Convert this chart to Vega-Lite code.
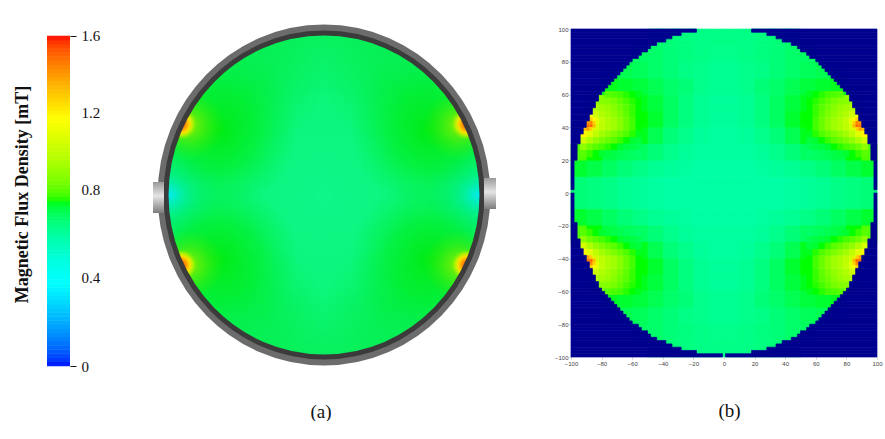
{"$schema":"https://vega.github.io/schema/vega-lite/v6.json","background":"white","padding":{"left":13,"top":14,"right":0,"bottom":0},"bounds":"flush","spacing":62,"config":{"view":{"stroke":null},"axis":{"grid":false}},"datasets":{"edge":[{"a":-100,"b":100,"y":98,"y2":100,"l":-18,"r":18},{"a":-100,"b":100,"y":96,"y2":98,"l":-28,"r":28},{"a":-100,"b":100,"y":94,"y2":96,"l":-34,"r":34},{"a":-100,"b":100,"y":92,"y2":94,"l":-38,"r":38},{"a":-100,"b":100,"y":90,"y2":92,"l":-44,"r":44},{"a":-100,"b":100,"y":88,"y2":90,"l":-48,"r":48},{"a":-100,"b":100,"y":86,"y2":88,"l":-50,"r":50},{"a":-100,"b":100,"y":84,"y2":86,"l":-54,"r":54},{"a":-100,"b":100,"y":82,"y2":84,"l":-56,"r":56},{"a":-100,"b":100,"y":80,"y2":82,"l":-60,"r":60},{"a":-100,"b":100,"y":78,"y2":80,"l":-62,"r":62},{"a":-100,"b":100,"y":76,"y2":78,"l":-64,"r":64},{"a":-100,"b":100,"y":74,"y2":76,"l":-66,"r":66},{"a":-100,"b":100,"y":72,"y2":74,"l":-68,"r":68},{"a":-100,"b":100,"y":70,"y2":72,"l":-70,"r":70},{"a":-100,"b":100,"y":68,"y2":70,"l":-72,"r":72},{"a":-100,"b":100,"y":66,"y2":68,"l":-74,"r":74},{"a":-100,"b":100,"y":64,"y2":66,"l":-76,"r":76},{"a":-100,"b":100,"y":62,"y2":64,"l":-78,"r":78},{"a":-100,"b":100,"y":60,"y2":62,"l":-80,"r":80},{"a":-100,"b":100,"y":56,"y2":60,"l":-82,"r":82},{"a":-100,"b":100,"y":52,"y2":56,"l":-84,"r":84},{"a":-100,"b":100,"y":48,"y2":52,"l":-86,"r":86},{"a":-100,"b":100,"y":44,"y2":48,"l":-88,"r":88},{"a":-100,"b":100,"y":40,"y2":44,"l":-90,"r":90},{"a":-100,"b":100,"y":36,"y2":40,"l":-92,"r":92},{"a":-100,"b":100,"y":30,"y2":36,"l":-94,"r":94},{"a":-100,"b":100,"y":20,"y2":30,"l":-96,"r":96},{"a":-100,"b":100,"y":2,"y2":20,"l":-98,"r":98},{"a":-100,"b":100,"y":-100,"y2":-98,"l":-1,"r":1},{"a":-100,"b":100,"y":-98,"y2":-96,"l":-18,"r":18},{"a":-100,"b":100,"y":-96,"y2":-94,"l":-28,"r":28},{"a":-100,"b":100,"y":-94,"y2":-92,"l":-34,"r":34},{"a":-100,"b":100,"y":-92,"y2":-90,"l":-38,"r":38},{"a":-100,"b":100,"y":-90,"y2":-88,"l":-44,"r":44},{"a":-100,"b":100,"y":-88,"y2":-86,"l":-48,"r":48},{"a":-100,"b":100,"y":-86,"y2":-84,"l":-50,"r":50},{"a":-100,"b":100,"y":-84,"y2":-82,"l":-54,"r":54},{"a":-100,"b":100,"y":-82,"y2":-80,"l":-56,"r":56},{"a":-100,"b":100,"y":-80,"y2":-78,"l":-60,"r":60},{"a":-100,"b":100,"y":-78,"y2":-76,"l":-62,"r":62},{"a":-100,"b":100,"y":-76,"y2":-74,"l":-64,"r":64},{"a":-100,"b":100,"y":-74,"y2":-72,"l":-66,"r":66},{"a":-100,"b":100,"y":-72,"y2":-70,"l":-68,"r":68},{"a":-100,"b":100,"y":-70,"y2":-68,"l":-70,"r":70},{"a":-100,"b":100,"y":-68,"y2":-66,"l":-72,"r":72},{"a":-100,"b":100,"y":-66,"y2":-64,"l":-74,"r":74},{"a":-100,"b":100,"y":-64,"y2":-62,"l":-76,"r":76},{"a":-100,"b":100,"y":-62,"y2":-60,"l":-78,"r":78},{"a":-100,"b":100,"y":-60,"y2":-58,"l":-80,"r":80},{"a":-100,"b":100,"y":-58,"y2":-54,"l":-82,"r":82},{"a":-100,"b":100,"y":-54,"y2":-50,"l":-84,"r":84},{"a":-100,"b":100,"y":-50,"y2":-46,"l":-86,"r":86},{"a":-100,"b":100,"y":-46,"y2":-42,"l":-88,"r":88},{"a":-100,"b":100,"y":-42,"y2":-38,"l":-90,"r":90},{"a":-100,"b":100,"y":-38,"y2":-34,"l":-92,"r":92},{"a":-100,"b":100,"y":-34,"y2":-28,"l":-94,"r":94},{"a":-100,"b":100,"y":-28,"y2":-18,"l":-96,"r":96},{"a":-100,"b":100,"y":-18,"y2":0,"l":-98,"r":98}]},"hconcat":[{"width":23,"height":342,"data":{"values":[{"v":0.01},{"v":0.03},{"v":0.05},{"v":0.07},{"v":0.09},{"v":0.11},{"v":0.13},{"v":0.15},{"v":0.17},{"v":0.19},{"v":0.21},{"v":0.23},{"v":0.25},{"v":0.27},{"v":0.29},{"v":0.31},{"v":0.33},{"v":0.35},{"v":0.37},{"v":0.39},{"v":0.41},{"v":0.43},{"v":0.45},{"v":0.47},{"v":0.49},{"v":0.51},{"v":0.53},{"v":0.55},{"v":0.57},{"v":0.59},{"v":0.61},{"v":0.63},{"v":0.65},{"v":0.67},{"v":0.69},{"v":0.71},{"v":0.73},{"v":0.75},{"v":0.77},{"v":0.79},{"v":0.81},{"v":0.83},{"v":0.85},{"v":0.87},{"v":0.89},{"v":0.91},{"v":0.93},{"v":0.95},{"v":0.97},{"v":0.99},{"v":1.01},{"v":1.03},{"v":1.05},{"v":1.07},{"v":1.09},{"v":1.11},{"v":1.13},{"v":1.15},{"v":1.17},{"v":1.19},{"v":1.21},{"v":1.23},{"v":1.25},{"v":1.27},{"v":1.29},{"v":1.31},{"v":1.33},{"v":1.35},{"v":1.37},{"v":1.39},{"v":1.41},{"v":1.43},{"v":1.45},{"v":1.47},{"v":1.49},{"v":1.51},{"v":1.53},{"v":1.55},{"v":1.57},{"v":1.59}]},"mark":{"type":"rect","height":4.6},"encoding":{"y":{"field":"v","type":"quantitative","scale":{"domain":[0,1.658],"nice":false,"zero":false},"axis":{"orient":"right","title":"Magnetic Flux Density [mT]","titleFont":"Liberation Serif","titleFontSize":18,"titleFontWeight":"bold","titleColor":"#111","titleX":-39,"titleY":170,"titleAngle":270,"values":[0,0.427,0.858,1.229,1.6],"labelExpr":"datum.value<0.01?'0':datum.value<0.5?'0.4':datum.value<0.9?'0.8':datum.value<1.3?'1.2':'1.6'","domain":false,"tickSize":6,"tickColor":"#111","tickOpacity":{"condition":{"test":"datum.value==0||datum.value==1.6","value":1},"value":0},"labelFont":"Liberation Serif","labelFontSize":15,"labelColor":"#111","labelPadding":5,"labelBaseline":"middle"}},"color":{"field":"v","type":"quantitative","legend":null,"scale":{"domain":[0,0.4,0.8,1.2,1.6],"range":["#0000ff","#00ffff","#00ff00","#ffff00","#ff0000"]}}}},{"width":377,"height":344,"encoding":{"x":{"field":"x","type":"quantitative","scale":{"domain":[-192,185],"nice":false,"zero":false},"axis":{"title":"(a)","labels":false,"ticks":false,"domain":false,"titleFont":"Liberation Serif","titleFontSize":19,"titleFontWeight":"normal","titleColor":"#111","titlePadding":34}},"y":{"field":"y","type":"quantitative","scale":{"domain":[-173,171],"nice":false,"zero":false},"axis":null}},"layer":[{"data":{"values":[{"x":0,"y":0}]},"mark":{"type":"point","filled":true,"opacity":1,"strokeWidth":0,"size":103041,"shape":"M-0.975,0C-0.975,-0.552,-0.538,-1,0,-1C0.538,-1,0.975,-0.552,0.975,0C0.975,0.552,0.538,1,0,1C-0.538,1,-0.975,0.552,-0.975,0Z","fill":{"gradient":"radial","x1":0.5,"y1":0.5,"r1":0,"x2":0.5,"y2":0.5,"r2":0.5,"stops":[{"offset":0,"color":"#0cf68a"},{"offset":0.6,"color":"#0bf67a"},{"offset":1,"color":"#08f05c"}]}}},{"data":{"values":[{"x":-155,"y":0},{"x":155,"y":0}]},"mark":{"type":"point","shape":"circle","filled":true,"opacity":1,"strokeWidth":0,"size":16900,"clip":true,"fill":{"gradient":"radial","x1":0.5,"y1":0.5,"r1":0,"x2":0.5,"y2":0.5,"r2":0.5,"stops":[{"offset":0,"color":"rgba(0,235,235,1)"},{"offset":0.3,"color":"rgba(0,240,190,0.65)"},{"offset":1,"color":"rgba(5,245,120,0)"}]}}},{"data":{"values":[{"x":-60,"y":112},{"x":60,"y":112},{"x":-60,"y":-112},{"x":60,"y":-112}]},"mark":{"type":"point","shape":"circle","filled":true,"opacity":1,"strokeWidth":0,"size":14400,"clip":true,"fill":{"gradient":"radial","x1":0.5,"y1":0.5,"r1":0,"x2":0.5,"y2":0.5,"r2":0.5,"stops":[{"offset":0,"color":"rgba(0,235,50,0.45)"},{"offset":1,"color":"rgba(0,235,50,0)"}]}}},{"data":{"values":[{"x":-105,"y":65},{"x":105,"y":65},{"x":-105,"y":-65},{"x":105,"y":-65}]},"mark":{"type":"point","shape":"circle","filled":true,"opacity":1,"strokeWidth":0,"size":25600,"clip":true,"fill":{"gradient":"radial","x1":0.5,"y1":0.5,"r1":0,"x2":0.5,"y2":0.5,"r2":0.5,"stops":[{"offset":0,"color":"rgba(0,235,15,0.95)"},{"offset":0.5,"color":"rgba(0,238,30,0.6)"},{"offset":1,"color":"rgba(0,240,60,0)"}]}}},{"data":{"values":[{"x":-135,"y":70},{"x":135,"y":70},{"x":-135,"y":-70},{"x":135,"y":-70}]},"mark":{"type":"point","shape":"circle","filled":true,"opacity":1,"strokeWidth":0,"size":4900,"clip":true,"fill":{"gradient":"radial","x1":0.5,"y1":0.5,"r1":0,"x2":0.5,"y2":0.5,"r2":0.5,"stops":[{"offset":0,"color":"rgba(160,240,0,0.9)"},{"offset":1,"color":"rgba(60,235,0,0)"}]}}},{"data":{"values":[{"x":-143,"y":71},{"x":143,"y":71},{"x":-143,"y":-70},{"x":143,"y":-70}]},"mark":{"type":"point","shape":"circle","filled":true,"opacity":1,"strokeWidth":0,"size":1024,"clip":true,"fill":{"gradient":"radial","x1":0.5,"y1":0.5,"r1":0,"x2":0.5,"y2":0.5,"r2":0.5,"stops":[{"offset":0,"color":"#ff5a00"},{"offset":0.28,"color":"#ff8c00"},{"offset":0.55,"color":"#ffe000"},{"offset":0.75,"color":"rgba(200,245,0,0.7)"},{"offset":1,"color":"rgba(120,240,0,0)"}]}}},{"data":{"values":[{"x":0,"y":0}]},"mark":{"type":"point","filled":false,"opacity":1,"clip":true,"stroke":"white","strokeWidth":120,"size":211600,"shape":"M-0.975,0C-0.975,-0.552,-0.538,-1,0,-1C0.538,-1,0.975,-0.552,0.975,0C0.975,0.552,0.538,1,0,1C-0.538,1,-0.975,0.552,-0.975,0Z"}},{"data":{"values":[{"x":0,"y":0}]},"mark":{"type":"point","filled":false,"opacity":1,"stroke":"#6c6c6c","strokeWidth":7,"size":111556,"shape":"M-0.975,0C-0.975,-0.552,-0.538,-1,0,-1C0.538,-1,0.975,-0.552,0.975,0C0.975,0.552,0.538,1,0,1C-0.538,1,-0.975,0.552,-0.975,0Z"}},{"data":{"values":[{"x":0,"y":0}]},"mark":{"type":"point","filled":false,"opacity":1,"stroke":"#3b3b3b","strokeWidth":5,"size":104976,"shape":"M-0.975,0C-0.975,-0.552,-0.538,-1,0,-1C0.538,-1,0.975,-0.552,0.975,0C0.975,0.552,0.538,1,0,1C-0.538,1,-0.975,0.552,-0.975,0Z"}},{"data":{"values":[{"x":-171,"x2":-160,"y":-18,"y2":13},{"x":160,"x2":172,"y":-14,"y2":17}]},"mark":{"type":"rect","fill":{"gradient":"linear","x1":0,"y1":0,"x2":0,"y2":1,"stops":[{"offset":0,"color":"#9a9a9a"},{"offset":0.45,"color":"#e4e4e4"},{"offset":1,"color":"#7c7c7c"}]}},"encoding":{"x2":{"field":"x2"},"y2":{"field":"y2"}}}]},{"width":306,"height":333,"encoding":{"x":{"field":"x","type":"quantitative","scale":{"domain":[-100,100],"nice":false,"zero":false},"axis":{"title":"(b)","titleFont":"Liberation Serif","titleFontSize":19,"titleFontWeight":"normal","titleColor":"#111","titlePadding":35,"titleX":158,"values":[-100,-80,-60,-40,-20,0,20,40,60,80,100],"domain":false,"tickSize":2,"tickColor":"#ccc","labelFont":"Liberation Sans","labelFontSize":6,"labelColor":"#444","labelPadding":1,"labelFlush":false}},"y":{"field":"y","type":"quantitative","scale":{"domain":[-100,103.05],"nice":false,"zero":false},"axis":{"title":null,"values":[-100,-80,-60,-40,-20,0,20,40,60,80,100],"domain":false,"tickSize":2,"tickColor":"#ccc","labelFont":"Liberation Sans","labelFontSize":6,"labelColor":"#444","labelPadding":1}},"color":{"field":"v","type":"quantitative","legend":null,"scale":{"domain":[0,0.4,0.8,1.2,1.6],"range":["#0000ff","#00ffff","#00ff00","#ffff00","#ff0000"]}}},"layer":[{"mark":{"type":"rect","width":16,"height":17},"data":{"values":[{"x":-5,"y":5,"v":0.63},{"x":-15,"y":5,"v":0.63},{"x":-25,"y":5,"v":0.63},{"x":-35,"y":5,"v":0.63},{"x":-45,"y":5,"v":0.64},{"x":-55,"y":5,"v":0.65},{"x":-65,"y":5,"v":0.66},{"x":-75,"y":5,"v":0.68},{"x":-85,"y":5,"v":0.69},{"x":-95,"y":5,"v":0.7},{"x":5,"y":5,"v":0.63},{"x":15,"y":5,"v":0.63},{"x":25,"y":5,"v":0.63},{"x":35,"y":5,"v":0.63},{"x":45,"y":5,"v":0.64},{"x":55,"y":5,"v":0.65},{"x":65,"y":5,"v":0.66},{"x":75,"y":5,"v":0.68},{"x":85,"y":5,"v":0.69},{"x":95,"y":5,"v":0.7},{"x":-5,"y":-5,"v":0.63},{"x":-15,"y":-5,"v":0.63},{"x":-25,"y":-5,"v":0.63},{"x":-35,"y":-5,"v":0.63},{"x":-45,"y":-5,"v":0.64},{"x":-55,"y":-5,"v":0.65},{"x":-65,"y":-5,"v":0.66},{"x":-75,"y":-5,"v":0.68},{"x":-85,"y":-5,"v":0.69},{"x":-95,"y":-5,"v":0.7},{"x":5,"y":-5,"v":0.63},{"x":15,"y":-5,"v":0.63},{"x":25,"y":-5,"v":0.63},{"x":35,"y":-5,"v":0.63},{"x":45,"y":-5,"v":0.64},{"x":55,"y":-5,"v":0.65},{"x":65,"y":-5,"v":0.66},{"x":75,"y":-5,"v":0.68},{"x":85,"y":-5,"v":0.69},{"x":95,"y":-5,"v":0.7},{"x":-5,"y":15,"v":0.63},{"x":-15,"y":15,"v":0.63},{"x":-25,"y":15,"v":0.64},{"x":-35,"y":15,"v":0.65},{"x":-45,"y":15,"v":0.66},{"x":-55,"y":15,"v":0.68},{"x":-65,"y":15,"v":0.7},{"x":-75,"y":15,"v":0.73},{"x":-85,"y":15,"v":0.76},{"x":-95,"y":15,"v":0.78},{"x":5,"y":15,"v":0.63},{"x":15,"y":15,"v":0.63},{"x":25,"y":15,"v":0.64},{"x":35,"y":15,"v":0.65},{"x":45,"y":15,"v":0.66},{"x":55,"y":15,"v":0.68},{"x":65,"y":15,"v":0.7},{"x":75,"y":15,"v":0.73},{"x":85,"y":15,"v":0.76},{"x":95,"y":15,"v":0.78},{"x":-5,"y":-15,"v":0.63},{"x":-15,"y":-15,"v":0.63},{"x":-25,"y":-15,"v":0.64},{"x":-35,"y":-15,"v":0.65},{"x":-45,"y":-15,"v":0.66},{"x":-55,"y":-15,"v":0.68},{"x":-65,"y":-15,"v":0.7},{"x":-75,"y":-15,"v":0.73},{"x":-85,"y":-15,"v":0.76},{"x":-95,"y":-15,"v":0.78},{"x":5,"y":-15,"v":0.63},{"x":15,"y":-15,"v":0.63},{"x":25,"y":-15,"v":0.64},{"x":35,"y":-15,"v":0.65},{"x":45,"y":-15,"v":0.66},{"x":55,"y":-15,"v":0.68},{"x":65,"y":-15,"v":0.7},{"x":75,"y":-15,"v":0.73},{"x":85,"y":-15,"v":0.76},{"x":95,"y":-15,"v":0.78},{"x":-5,"y":25,"v":0.64},{"x":-15,"y":25,"v":0.64},{"x":-25,"y":25,"v":0.65},{"x":-35,"y":25,"v":0.67},{"x":-45,"y":25,"v":0.7},{"x":-55,"y":25,"v":0.73},{"x":-65,"y":25,"v":0.74},{"x":-75,"y":25,"v":0.76},{"x":-85,"y":25,"v":0.8},{"x":-95,"y":25,"v":0.84},{"x":5,"y":25,"v":0.64},{"x":15,"y":25,"v":0.64},{"x":25,"y":25,"v":0.65},{"x":35,"y":25,"v":0.67},{"x":45,"y":25,"v":0.7},{"x":55,"y":25,"v":0.73},{"x":65,"y":25,"v":0.74},{"x":75,"y":25,"v":0.76},{"x":85,"y":25,"v":0.8},{"x":95,"y":25,"v":0.84},{"x":-5,"y":-25,"v":0.64},{"x":-15,"y":-25,"v":0.64},{"x":-25,"y":-25,"v":0.65},{"x":-35,"y":-25,"v":0.67},{"x":-45,"y":-25,"v":0.7},{"x":-55,"y":-25,"v":0.73},{"x":-65,"y":-25,"v":0.74},{"x":-75,"y":-25,"v":0.76},{"x":-85,"y":-25,"v":0.8},{"x":-95,"y":-25,"v":0.84},{"x":5,"y":-25,"v":0.64},{"x":15,"y":-25,"v":0.64},{"x":25,"y":-25,"v":0.65},{"x":35,"y":-25,"v":0.67},{"x":45,"y":-25,"v":0.7},{"x":55,"y":-25,"v":0.73},{"x":65,"y":-25,"v":0.74},{"x":75,"y":-25,"v":0.76},{"x":85,"y":-25,"v":0.8},{"x":95,"y":-25,"v":0.84},{"x":-5,"y":35,"v":0.64},{"x":-15,"y":35,"v":0.65},{"x":-25,"y":35,"v":0.67},{"x":-35,"y":35,"v":0.7},{"x":-45,"y":35,"v":0.75},{"x":-55,"y":35,"v":0.79},{"x":5,"y":35,"v":0.64},{"x":15,"y":35,"v":0.65},{"x":25,"y":35,"v":0.67},{"x":35,"y":35,"v":0.7},{"x":45,"y":35,"v":0.75},{"x":55,"y":35,"v":0.79},{"x":-5,"y":-35,"v":0.64},{"x":-15,"y":-35,"v":0.65},{"x":-25,"y":-35,"v":0.67},{"x":-35,"y":-35,"v":0.7},{"x":-45,"y":-35,"v":0.75},{"x":-55,"y":-35,"v":0.79},{"x":5,"y":-35,"v":0.64},{"x":15,"y":-35,"v":0.65},{"x":25,"y":-35,"v":0.67},{"x":35,"y":-35,"v":0.7},{"x":45,"y":-35,"v":0.75},{"x":55,"y":-35,"v":0.79},{"x":-5,"y":45,"v":0.65},{"x":-15,"y":45,"v":0.66},{"x":-25,"y":45,"v":0.69},{"x":-35,"y":45,"v":0.73},{"x":-45,"y":45,"v":0.78},{"x":-55,"y":45,"v":0.8},{"x":5,"y":45,"v":0.65},{"x":15,"y":45,"v":0.66},{"x":25,"y":45,"v":0.69},{"x":35,"y":45,"v":0.73},{"x":45,"y":45,"v":0.78},{"x":55,"y":45,"v":0.8},{"x":-5,"y":-45,"v":0.65},{"x":-15,"y":-45,"v":0.66},{"x":-25,"y":-45,"v":0.69},{"x":-35,"y":-45,"v":0.73},{"x":-45,"y":-45,"v":0.78},{"x":-55,"y":-45,"v":0.8},{"x":5,"y":-45,"v":0.65},{"x":15,"y":-45,"v":0.66},{"x":25,"y":-45,"v":0.69},{"x":35,"y":-45,"v":0.73},{"x":45,"y":-45,"v":0.78},{"x":55,"y":-45,"v":0.8},{"x":-5,"y":55,"v":0.65},{"x":-15,"y":55,"v":0.66},{"x":-25,"y":55,"v":0.69},{"x":-35,"y":55,"v":0.73},{"x":-45,"y":55,"v":0.77},{"x":-55,"y":55,"v":0.79},{"x":-75,"y":55,"v":0.9},{"x":-85,"y":55,"v":0.93},{"x":5,"y":55,"v":0.65},{"x":15,"y":55,"v":0.66},{"x":25,"y":55,"v":0.69},{"x":35,"y":55,"v":0.73},{"x":45,"y":55,"v":0.77},{"x":55,"y":55,"v":0.79},{"x":75,"y":55,"v":0.9},{"x":85,"y":55,"v":0.93},{"x":-5,"y":-55,"v":0.65},{"x":-15,"y":-55,"v":0.66},{"x":-25,"y":-55,"v":0.69},{"x":-35,"y":-55,"v":0.73},{"x":-45,"y":-55,"v":0.77},{"x":-55,"y":-55,"v":0.79},{"x":-75,"y":-55,"v":0.9},{"x":-85,"y":-55,"v":0.93},{"x":5,"y":-55,"v":0.65},{"x":15,"y":-55,"v":0.66},{"x":25,"y":-55,"v":0.69},{"x":35,"y":-55,"v":0.73},{"x":45,"y":-55,"v":0.77},{"x":55,"y":-55,"v":0.79},{"x":75,"y":-55,"v":0.9},{"x":85,"y":-55,"v":0.93},{"x":-5,"y":65,"v":0.66},{"x":-15,"y":65,"v":0.67},{"x":-25,"y":65,"v":0.7},{"x":-35,"y":65,"v":0.72},{"x":-45,"y":65,"v":0.75},{"x":-55,"y":65,"v":0.77},{"x":-65,"y":65,"v":0.78},{"x":-75,"y":65,"v":0.79},{"x":5,"y":65,"v":0.66},{"x":15,"y":65,"v":0.67},{"x":25,"y":65,"v":0.7},{"x":35,"y":65,"v":0.72},{"x":45,"y":65,"v":0.75},{"x":55,"y":65,"v":0.77},{"x":65,"y":65,"v":0.78},{"x":75,"y":65,"v":0.79},{"x":-5,"y":-65,"v":0.66},{"x":-15,"y":-65,"v":0.67},{"x":-25,"y":-65,"v":0.7},{"x":-35,"y":-65,"v":0.72},{"x":-45,"y":-65,"v":0.75},{"x":-55,"y":-65,"v":0.77},{"x":-65,"y":-65,"v":0.78},{"x":-75,"y":-65,"v":0.79},{"x":5,"y":-65,"v":0.66},{"x":15,"y":-65,"v":0.67},{"x":25,"y":-65,"v":0.7},{"x":35,"y":-65,"v":0.72},{"x":45,"y":-65,"v":0.75},{"x":55,"y":-65,"v":0.77},{"x":65,"y":-65,"v":0.78},{"x":75,"y":-65,"v":0.79},{"x":-5,"y":75,"v":0.66},{"x":-15,"y":75,"v":0.67},{"x":-25,"y":75,"v":0.68},{"x":-35,"y":75,"v":0.7},{"x":-45,"y":75,"v":0.72},{"x":-55,"y":75,"v":0.74},{"x":-65,"y":75,"v":0.75},{"x":-75,"y":75,"v":0.76},{"x":5,"y":75,"v":0.66},{"x":15,"y":75,"v":0.67},{"x":25,"y":75,"v":0.68},{"x":35,"y":75,"v":0.7},{"x":45,"y":75,"v":0.72},{"x":55,"y":75,"v":0.74},{"x":65,"y":75,"v":0.75},{"x":75,"y":75,"v":0.76},{"x":-5,"y":-75,"v":0.66},{"x":-15,"y":-75,"v":0.67},{"x":-25,"y":-75,"v":0.68},{"x":-35,"y":-75,"v":0.7},{"x":-45,"y":-75,"v":0.72},{"x":-55,"y":-75,"v":0.74},{"x":-65,"y":-75,"v":0.75},{"x":-75,"y":-75,"v":0.76},{"x":5,"y":-75,"v":0.66},{"x":15,"y":-75,"v":0.67},{"x":25,"y":-75,"v":0.68},{"x":35,"y":-75,"v":0.7},{"x":45,"y":-75,"v":0.72},{"x":55,"y":-75,"v":0.74},{"x":65,"y":-75,"v":0.75},{"x":75,"y":-75,"v":0.76},{"x":-5,"y":85,"v":0.67},{"x":-15,"y":85,"v":0.68},{"x":-25,"y":85,"v":0.69},{"x":-35,"y":85,"v":0.7},{"x":-45,"y":85,"v":0.72},{"x":-55,"y":85,"v":0.73},{"x":5,"y":85,"v":0.67},{"x":15,"y":85,"v":0.68},{"x":25,"y":85,"v":0.69},{"x":35,"y":85,"v":0.7},{"x":45,"y":85,"v":0.72},{"x":55,"y":85,"v":0.73},{"x":-5,"y":-85,"v":0.67},{"x":-15,"y":-85,"v":0.68},{"x":-25,"y":-85,"v":0.69},{"x":-35,"y":-85,"v":0.7},{"x":-45,"y":-85,"v":0.72},{"x":-55,"y":-85,"v":0.73},{"x":5,"y":-85,"v":0.67},{"x":15,"y":-85,"v":0.68},{"x":25,"y":-85,"v":0.69},{"x":35,"y":-85,"v":0.7},{"x":45,"y":-85,"v":0.72},{"x":55,"y":-85,"v":0.73},{"x":-5,"y":95,"v":0.68},{"x":-15,"y":95,"v":0.68},{"x":-25,"y":95,"v":0.69},{"x":-35,"y":95,"v":0.7},{"x":-45,"y":95,"v":0.71},{"x":5,"y":95,"v":0.68},{"x":15,"y":95,"v":0.68},{"x":25,"y":95,"v":0.69},{"x":35,"y":95,"v":0.7},{"x":45,"y":95,"v":0.71},{"x":-5,"y":-95,"v":0.68},{"x":-15,"y":-95,"v":0.68},{"x":-25,"y":-95,"v":0.69},{"x":-35,"y":-95,"v":0.7},{"x":-45,"y":-95,"v":0.71},{"x":5,"y":-95,"v":0.68},{"x":15,"y":-95,"v":0.68},{"x":25,"y":-95,"v":0.69},{"x":35,"y":-95,"v":0.7},{"x":45,"y":-95,"v":0.71}]}},{"mark":{"type":"rect","width":6.6,"height":7},"data":{"values":[{"x":-56,"y":60,"v":0.79},{"x":-60,"y":60,"v":0.8},{"x":-64,"y":60,"v":0.81},{"x":-68,"y":60,"v":0.83},{"x":-72,"y":60,"v":0.84},{"x":-76,"y":60,"v":0.85},{"x":-56,"y":56,"v":0.8},{"x":-60,"y":56,"v":0.81},{"x":-64,"y":56,"v":0.83},{"x":-68,"y":56,"v":0.86},{"x":-72,"y":56,"v":0.89},{"x":-76,"y":56,"v":0.91},{"x":-80,"y":56,"v":0.92},{"x":-84,"y":56,"v":0.94},{"x":-56,"y":52,"v":0.8},{"x":-60,"y":52,"v":0.82},{"x":-64,"y":52,"v":0.85},{"x":-68,"y":52,"v":0.88},{"x":-72,"y":52,"v":0.92},{"x":-76,"y":52,"v":0.95},{"x":-80,"y":52,"v":0.97},{"x":-84,"y":52,"v":1.0},{"x":-88,"y":52,"v":1.06},{"x":-56,"y":48,"v":0.8},{"x":-60,"y":48,"v":0.82},{"x":-64,"y":48,"v":0.86},{"x":-68,"y":48,"v":0.9},{"x":-72,"y":48,"v":0.94},{"x":-76,"y":48,"v":0.97},{"x":-80,"y":48,"v":1.0},{"x":-84,"y":48,"v":1.07},{"x":-88,"y":48,"v":1.18},{"x":-56,"y":44,"v":0.8},{"x":-60,"y":44,"v":0.83},{"x":-64,"y":44,"v":0.87},{"x":-68,"y":44,"v":0.92},{"x":-72,"y":44,"v":0.96},{"x":-76,"y":44,"v":0.99},{"x":-80,"y":44,"v":1.04},{"x":-84,"y":44,"v":1.13},{"x":-88,"y":44,"v":1.3},{"x":-56,"y":40,"v":0.8},{"x":-60,"y":40,"v":0.83},{"x":-64,"y":40,"v":0.87},{"x":-68,"y":40,"v":0.92},{"x":-72,"y":40,"v":0.96},{"x":-76,"y":40,"v":0.99},{"x":-80,"y":40,"v":1.03},{"x":-84,"y":40,"v":1.09},{"x":-88,"y":40,"v":1.2},{"x":-92,"y":40,"v":1.32},{"x":-56,"y":36,"v":0.79},{"x":-60,"y":36,"v":0.81},{"x":-64,"y":36,"v":0.84},{"x":-68,"y":36,"v":0.87},{"x":-72,"y":36,"v":0.9},{"x":-76,"y":36,"v":0.93},{"x":-80,"y":36,"v":0.97},{"x":-84,"y":36,"v":1.03},{"x":-88,"y":36,"v":1.12},{"x":-92,"y":36,"v":1.22},{"x":-56,"y":32,"v":0.77},{"x":-60,"y":32,"v":0.78},{"x":-64,"y":32,"v":0.8},{"x":-68,"y":32,"v":0.82},{"x":-72,"y":32,"v":0.85},{"x":-76,"y":32,"v":0.87},{"x":-80,"y":32,"v":0.9},{"x":-84,"y":32,"v":0.94},{"x":-88,"y":32,"v":1.0},{"x":-92,"y":32,"v":1.08},{"x":-56,"y":28,"v":0.75},{"x":-60,"y":28,"v":0.76},{"x":-64,"y":28,"v":0.77},{"x":-68,"y":28,"v":0.78},{"x":-72,"y":28,"v":0.8},{"x":-76,"y":28,"v":0.81},{"x":-80,"y":28,"v":0.83},{"x":-84,"y":28,"v":0.85},{"x":-88,"y":28,"v":0.88},{"x":-92,"y":28,"v":0.93},{"x":-56,"y":24,"v":0.72},{"x":-60,"y":24,"v":0.73},{"x":-64,"y":24,"v":0.74},{"x":-68,"y":24,"v":0.75},{"x":-72,"y":24,"v":0.76},{"x":-76,"y":24,"v":0.77},{"x":-80,"y":24,"v":0.78},{"x":-84,"y":24,"v":0.8},{"x":-88,"y":24,"v":0.82},{"x":-92,"y":24,"v":0.85},{"x":56,"y":60,"v":0.79},{"x":60,"y":60,"v":0.8},{"x":64,"y":60,"v":0.81},{"x":68,"y":60,"v":0.83},{"x":72,"y":60,"v":0.84},{"x":76,"y":60,"v":0.85},{"x":56,"y":56,"v":0.8},{"x":60,"y":56,"v":0.81},{"x":64,"y":56,"v":0.83},{"x":68,"y":56,"v":0.86},{"x":72,"y":56,"v":0.89},{"x":76,"y":56,"v":0.91},{"x":80,"y":56,"v":0.92},{"x":84,"y":56,"v":0.94},{"x":56,"y":52,"v":0.8},{"x":60,"y":52,"v":0.82},{"x":64,"y":52,"v":0.85},{"x":68,"y":52,"v":0.88},{"x":72,"y":52,"v":0.92},{"x":76,"y":52,"v":0.95},{"x":80,"y":52,"v":0.97},{"x":84,"y":52,"v":1.0},{"x":88,"y":52,"v":1.06},{"x":56,"y":48,"v":0.8},{"x":60,"y":48,"v":0.82},{"x":64,"y":48,"v":0.86},{"x":68,"y":48,"v":0.9},{"x":72,"y":48,"v":0.94},{"x":76,"y":48,"v":0.97},{"x":80,"y":48,"v":1.0},{"x":84,"y":48,"v":1.07},{"x":88,"y":48,"v":1.18},{"x":56,"y":44,"v":0.8},{"x":60,"y":44,"v":0.83},{"x":64,"y":44,"v":0.87},{"x":68,"y":44,"v":0.92},{"x":72,"y":44,"v":0.96},{"x":76,"y":44,"v":0.99},{"x":80,"y":44,"v":1.04},{"x":84,"y":44,"v":1.13},{"x":88,"y":44,"v":1.3},{"x":56,"y":40,"v":0.8},{"x":60,"y":40,"v":0.83},{"x":64,"y":40,"v":0.87},{"x":68,"y":40,"v":0.92},{"x":72,"y":40,"v":0.96},{"x":76,"y":40,"v":0.99},{"x":80,"y":40,"v":1.03},{"x":84,"y":40,"v":1.09},{"x":88,"y":40,"v":1.2},{"x":92,"y":40,"v":1.32},{"x":56,"y":36,"v":0.79},{"x":60,"y":36,"v":0.81},{"x":64,"y":36,"v":0.84},{"x":68,"y":36,"v":0.87},{"x":72,"y":36,"v":0.9},{"x":76,"y":36,"v":0.93},{"x":80,"y":36,"v":0.97},{"x":84,"y":36,"v":1.03},{"x":88,"y":36,"v":1.12},{"x":92,"y":36,"v":1.22},{"x":56,"y":32,"v":0.77},{"x":60,"y":32,"v":0.78},{"x":64,"y":32,"v":0.8},{"x":68,"y":32,"v":0.82},{"x":72,"y":32,"v":0.85},{"x":76,"y":32,"v":0.87},{"x":80,"y":32,"v":0.9},{"x":84,"y":32,"v":0.94},{"x":88,"y":32,"v":1.0},{"x":92,"y":32,"v":1.08},{"x":56,"y":28,"v":0.75},{"x":60,"y":28,"v":0.76},{"x":64,"y":28,"v":0.77},{"x":68,"y":28,"v":0.78},{"x":72,"y":28,"v":0.8},{"x":76,"y":28,"v":0.81},{"x":80,"y":28,"v":0.83},{"x":84,"y":28,"v":0.85},{"x":88,"y":28,"v":0.88},{"x":92,"y":28,"v":0.93},{"x":56,"y":24,"v":0.72},{"x":60,"y":24,"v":0.73},{"x":64,"y":24,"v":0.74},{"x":68,"y":24,"v":0.75},{"x":72,"y":24,"v":0.76},{"x":76,"y":24,"v":0.77},{"x":80,"y":24,"v":0.78},{"x":84,"y":24,"v":0.8},{"x":88,"y":24,"v":0.82},{"x":92,"y":24,"v":0.85},{"x":-56,"y":-60,"v":0.79},{"x":-60,"y":-60,"v":0.8},{"x":-64,"y":-60,"v":0.81},{"x":-68,"y":-60,"v":0.83},{"x":-72,"y":-60,"v":0.84},{"x":-76,"y":-60,"v":0.85},{"x":-56,"y":-56,"v":0.8},{"x":-60,"y":-56,"v":0.81},{"x":-64,"y":-56,"v":0.83},{"x":-68,"y":-56,"v":0.86},{"x":-72,"y":-56,"v":0.89},{"x":-76,"y":-56,"v":0.91},{"x":-80,"y":-56,"v":0.92},{"x":-84,"y":-56,"v":0.94},{"x":-56,"y":-52,"v":0.8},{"x":-60,"y":-52,"v":0.82},{"x":-64,"y":-52,"v":0.85},{"x":-68,"y":-52,"v":0.88},{"x":-72,"y":-52,"v":0.92},{"x":-76,"y":-52,"v":0.95},{"x":-80,"y":-52,"v":0.97},{"x":-84,"y":-52,"v":1.0},{"x":-88,"y":-52,"v":1.06},{"x":-56,"y":-48,"v":0.8},{"x":-60,"y":-48,"v":0.82},{"x":-64,"y":-48,"v":0.86},{"x":-68,"y":-48,"v":0.9},{"x":-72,"y":-48,"v":0.94},{"x":-76,"y":-48,"v":0.97},{"x":-80,"y":-48,"v":1.0},{"x":-84,"y":-48,"v":1.07},{"x":-88,"y":-48,"v":1.18},{"x":-56,"y":-44,"v":0.8},{"x":-60,"y":-44,"v":0.83},{"x":-64,"y":-44,"v":0.87},{"x":-68,"y":-44,"v":0.92},{"x":-72,"y":-44,"v":0.96},{"x":-76,"y":-44,"v":0.99},{"x":-80,"y":-44,"v":1.04},{"x":-84,"y":-44,"v":1.13},{"x":-88,"y":-44,"v":1.3},{"x":-56,"y":-40,"v":0.8},{"x":-60,"y":-40,"v":0.83},{"x":-64,"y":-40,"v":0.87},{"x":-68,"y":-40,"v":0.92},{"x":-72,"y":-40,"v":0.96},{"x":-76,"y":-40,"v":0.99},{"x":-80,"y":-40,"v":1.03},{"x":-84,"y":-40,"v":1.09},{"x":-88,"y":-40,"v":1.2},{"x":-92,"y":-40,"v":1.32},{"x":-56,"y":-36,"v":0.79},{"x":-60,"y":-36,"v":0.81},{"x":-64,"y":-36,"v":0.84},{"x":-68,"y":-36,"v":0.87},{"x":-72,"y":-36,"v":0.9},{"x":-76,"y":-36,"v":0.93},{"x":-80,"y":-36,"v":0.97},{"x":-84,"y":-36,"v":1.03},{"x":-88,"y":-36,"v":1.12},{"x":-92,"y":-36,"v":1.22},{"x":-56,"y":-32,"v":0.77},{"x":-60,"y":-32,"v":0.78},{"x":-64,"y":-32,"v":0.8},{"x":-68,"y":-32,"v":0.82},{"x":-72,"y":-32,"v":0.85},{"x":-76,"y":-32,"v":0.87},{"x":-80,"y":-32,"v":0.9},{"x":-84,"y":-32,"v":0.94},{"x":-88,"y":-32,"v":1.0},{"x":-92,"y":-32,"v":1.08},{"x":-56,"y":-28,"v":0.75},{"x":-60,"y":-28,"v":0.76},{"x":-64,"y":-28,"v":0.77},{"x":-68,"y":-28,"v":0.78},{"x":-72,"y":-28,"v":0.8},{"x":-76,"y":-28,"v":0.81},{"x":-80,"y":-28,"v":0.83},{"x":-84,"y":-28,"v":0.85},{"x":-88,"y":-28,"v":0.88},{"x":-92,"y":-28,"v":0.93},{"x":-56,"y":-24,"v":0.72},{"x":-60,"y":-24,"v":0.73},{"x":-64,"y":-24,"v":0.74},{"x":-68,"y":-24,"v":0.75},{"x":-72,"y":-24,"v":0.76},{"x":-76,"y":-24,"v":0.77},{"x":-80,"y":-24,"v":0.78},{"x":-84,"y":-24,"v":0.8},{"x":-88,"y":-24,"v":0.82},{"x":-92,"y":-24,"v":0.85},{"x":56,"y":-60,"v":0.79},{"x":60,"y":-60,"v":0.8},{"x":64,"y":-60,"v":0.81},{"x":68,"y":-60,"v":0.83},{"x":72,"y":-60,"v":0.84},{"x":76,"y":-60,"v":0.85},{"x":56,"y":-56,"v":0.8},{"x":60,"y":-56,"v":0.81},{"x":64,"y":-56,"v":0.83},{"x":68,"y":-56,"v":0.86},{"x":72,"y":-56,"v":0.89},{"x":76,"y":-56,"v":0.91},{"x":80,"y":-56,"v":0.92},{"x":84,"y":-56,"v":0.94},{"x":56,"y":-52,"v":0.8},{"x":60,"y":-52,"v":0.82},{"x":64,"y":-52,"v":0.85},{"x":68,"y":-52,"v":0.88},{"x":72,"y":-52,"v":0.92},{"x":76,"y":-52,"v":0.95},{"x":80,"y":-52,"v":0.97},{"x":84,"y":-52,"v":1.0},{"x":88,"y":-52,"v":1.06},{"x":56,"y":-48,"v":0.8},{"x":60,"y":-48,"v":0.82},{"x":64,"y":-48,"v":0.86},{"x":68,"y":-48,"v":0.9},{"x":72,"y":-48,"v":0.94},{"x":76,"y":-48,"v":0.97},{"x":80,"y":-48,"v":1.0},{"x":84,"y":-48,"v":1.07},{"x":88,"y":-48,"v":1.18},{"x":56,"y":-44,"v":0.8},{"x":60,"y":-44,"v":0.83},{"x":64,"y":-44,"v":0.87},{"x":68,"y":-44,"v":0.92},{"x":72,"y":-44,"v":0.96},{"x":76,"y":-44,"v":0.99},{"x":80,"y":-44,"v":1.04},{"x":84,"y":-44,"v":1.13},{"x":88,"y":-44,"v":1.3},{"x":56,"y":-40,"v":0.8},{"x":60,"y":-40,"v":0.83},{"x":64,"y":-40,"v":0.87},{"x":68,"y":-40,"v":0.92},{"x":72,"y":-40,"v":0.96},{"x":76,"y":-40,"v":0.99},{"x":80,"y":-40,"v":1.03},{"x":84,"y":-40,"v":1.09},{"x":88,"y":-40,"v":1.2},{"x":92,"y":-40,"v":1.32},{"x":56,"y":-36,"v":0.79},{"x":60,"y":-36,"v":0.81},{"x":64,"y":-36,"v":0.84},{"x":68,"y":-36,"v":0.87},{"x":72,"y":-36,"v":0.9},{"x":76,"y":-36,"v":0.93},{"x":80,"y":-36,"v":0.97},{"x":84,"y":-36,"v":1.03},{"x":88,"y":-36,"v":1.12},{"x":92,"y":-36,"v":1.22},{"x":56,"y":-32,"v":0.77},{"x":60,"y":-32,"v":0.78},{"x":64,"y":-32,"v":0.8},{"x":68,"y":-32,"v":0.82},{"x":72,"y":-32,"v":0.85},{"x":76,"y":-32,"v":0.87},{"x":80,"y":-32,"v":0.9},{"x":84,"y":-32,"v":0.94},{"x":88,"y":-32,"v":1.0},{"x":92,"y":-32,"v":1.08},{"x":56,"y":-28,"v":0.75},{"x":60,"y":-28,"v":0.76},{"x":64,"y":-28,"v":0.77},{"x":68,"y":-28,"v":0.78},{"x":72,"y":-28,"v":0.8},{"x":76,"y":-28,"v":0.81},{"x":80,"y":-28,"v":0.83},{"x":84,"y":-28,"v":0.85},{"x":88,"y":-28,"v":0.88},{"x":92,"y":-28,"v":0.93},{"x":56,"y":-24,"v":0.72},{"x":60,"y":-24,"v":0.73},{"x":64,"y":-24,"v":0.74},{"x":68,"y":-24,"v":0.75},{"x":72,"y":-24,"v":0.76},{"x":76,"y":-24,"v":0.77},{"x":80,"y":-24,"v":0.78},{"x":84,"y":-24,"v":0.8},{"x":88,"y":-24,"v":0.82},{"x":92,"y":-24,"v":0.85}]}},{"mark":{"type":"rect","width":3.2,"height":3.4},"data":{"values":[{"x":-85,"y":43,"v":1.3},{"x":-87,"y":43,"v":1.45},{"x":-89,"y":43,"v":1.42},{"x":-85,"y":41,"v":1.35},{"x":-87,"y":41,"v":1.5},{"x":-89,"y":41,"v":1.48},{"x":-87,"y":39,"v":1.3},{"x":-89,"y":39,"v":1.4},{"x":-91,"y":39,"v":1.35},{"x":-85,"y":45,"v":1.2},{"x":-87,"y":45,"v":1.3},{"x":85,"y":43,"v":1.3},{"x":87,"y":43,"v":1.45},{"x":89,"y":43,"v":1.42},{"x":85,"y":41,"v":1.35},{"x":87,"y":41,"v":1.5},{"x":89,"y":41,"v":1.48},{"x":87,"y":39,"v":1.3},{"x":89,"y":39,"v":1.4},{"x":91,"y":39,"v":1.35},{"x":85,"y":45,"v":1.2},{"x":87,"y":45,"v":1.3},{"x":-85,"y":-43,"v":1.3},{"x":-87,"y":-43,"v":1.45},{"x":-89,"y":-43,"v":1.42},{"x":-85,"y":-41,"v":1.35},{"x":-87,"y":-41,"v":1.5},{"x":-89,"y":-41,"v":1.48},{"x":-87,"y":-39,"v":1.3},{"x":-89,"y":-39,"v":1.4},{"x":-91,"y":-39,"v":1.35},{"x":-85,"y":-45,"v":1.2},{"x":-87,"y":-45,"v":1.3},{"x":85,"y":-43,"v":1.3},{"x":87,"y":-43,"v":1.45},{"x":89,"y":-43,"v":1.42},{"x":85,"y":-41,"v":1.35},{"x":87,"y":-41,"v":1.5},{"x":89,"y":-41,"v":1.48},{"x":87,"y":-39,"v":1.3},{"x":89,"y":-39,"v":1.4},{"x":91,"y":-39,"v":1.35},{"x":85,"y":-45,"v":1.2},{"x":87,"y":-45,"v":1.3}]}},{"data":{"name":"edge"},"mark":{"type":"rect","stroke":"#00008f","strokeWidth":0.7},"encoding":{"x":{"field":"a","type":"quantitative","scale":{"domain":[-100,100],"nice":false,"zero":false}},"x2":{"field":"l"},"y2":{"field":"y2"},"color":{"value":"#00008f"}}},{"data":{"name":"edge"},"mark":{"type":"rect","stroke":"#00008f","strokeWidth":0.7},"encoding":{"x":{"field":"b","type":"quantitative","scale":{"domain":[-100,100],"nice":false,"zero":false}},"x2":{"field":"r"},"y2":{"field":"y2"},"color":{"value":"#00008f"}}}]}]}
